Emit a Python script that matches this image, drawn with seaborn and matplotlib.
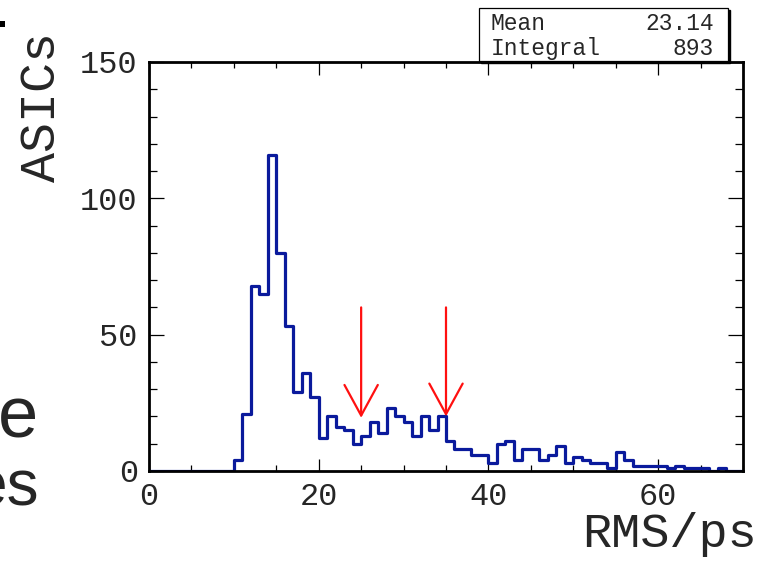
import numpy as np
import pandas as pd
import matplotlib
matplotlib.use("Agg")
import matplotlib.pyplot as plt
import seaborn as sns
from matplotlib.ticker import MultipleLocator
from matplotlib.patches import Rectangle

# ---- data ----
bin_edges = list(range(0, 71))
counts = [0] * 10 + [
    4, 21, 68, 65, 116, 80, 53, 29, 36, 27,
    12, 20, 16, 15, 10, 13, 18, 14, 23, 20,
    18, 13, 20, 15, 20, 11, 8, 8, 6, 6,
    3, 10, 11, 4, 8, 8, 4, 6, 9, 3,
    5, 4, 3, 3, 1, 7, 4, 2, 2, 2,
    2, 1, 2, 1, 1, 1, 0, 1, 0, 0,
]
x_ticks_major = [0, 20, 40, 60]
y_ticks_major = [0, 50, 100, 150]
arrow_x = [25, 35]
arrow_tip = [19.5, 20]
arrow_top = 60
stats_labels = ["Mean", "Integral"]
stats_values = ["23.14", "893"]
x_title = "RMS/ps"
y_title = "ASICs"

centers = [(a + b) / 2 for a, b in zip(bin_edges[:-1], bin_edges[1:])]
df = pd.DataFrame({"rms": centers, "n": counts})

# ---- figure ----
W, H = 760, 562
sns.set_style("ticks")
plt.rcParams["font.family"] = ["Liberation Mono", "DejaVu Sans Mono"]

fig = plt.figure(figsize=(W / 100, H / 100), dpi=100)
fig.patch.set_facecolor("white")

def fx(px):
    return px / W

def fy(py):
    return 1 - py / H

L, R, T, B = 149, 743, 62, 471
ax = fig.add_axes([fx(L), fy(B), (R - L) / W, (B - T) / H])

sns.histplot(data=df, x="rms", weights="n", bins=bin_edges, element="step",
             fill=False, color="#0a1a9c", linewidth=2.3, ax=ax)

ax.set_xlim(0, 70)
ax.set_ylim(0, 150)
ax.set_xlabel("")
ax.set_ylabel("")

ax.xaxis.set_major_locator(MultipleLocator(20))
ax.xaxis.set_minor_locator(MultipleLocator(5))
ax.yaxis.set_major_locator(MultipleLocator(50))
ax.yaxis.set_minor_locator(MultipleLocator(10))
ax.set_xticks(x_ticks_major)
ax.set_yticks(y_ticks_major)

ax.tick_params(which="both", direction="in", top=True, right=True,
               labeltop=False, labelright=False, color="black", width=0.9)
ax.tick_params(axis="x", which="major", length=9, labelsize=23, pad=8)
ax.tick_params(axis="x", which="minor", length=4.5)
ax.tick_params(axis="y", which="major", length=11, labelsize=23, pad=8)
ax.tick_params(axis="y", which="minor", length=5.5)
for s in ax.spines.values():
    s.set_linewidth(2.0)
    s.set_color("black")

# arrows
for xa, tip in zip(arrow_x, arrow_tip):
    ax.annotate("", xy=(xa, tip), xytext=(xa, arrow_top),
                arrowprops=dict(arrowstyle="->,head_length=2.2,head_width=1.2",
                                color="#ff1010", lw=1.6, shrinkA=0, shrinkB=0,
                                mutation_scale=10))

# axis titles
fig.text(fx(757), fy(547), x_title, ha="right", va="baseline", fontsize=35)
fig.text(fx(55), fy(32), y_title, ha="right", va="baseline", rotation=90,
         rotation_mode="anchor", fontsize=36)

# stats box
bx0, bx1, by0, by1 = 479, 728, 8, 61
fig.patches.append(Rectangle((fx(bx0 + 2), fy(by1 + 2)), (bx1 - bx0) / W,
                             (by1 - by0) / H, transform=fig.transFigure,
                             facecolor="black", edgecolor="black", zorder=5))
fig.patches.append(Rectangle((fx(bx0), fy(by1)), (bx1 - bx0) / W,
                             (by1 - by0) / H, transform=fig.transFigure,
                             facecolor="white", edgecolor="black", lw=0.9,
                             zorder=6))
for i, (lab, val) in enumerate(zip(stats_labels, stats_values)):
    yb = 30 + 25 * i
    fig.text(fx(491), fy(yb), lab, ha="left", va="baseline", fontsize=16.5,
             zorder=7)
    fig.text(fx(714), fy(yb), val, ha="right", va="baseline", fontsize=16.5,
             zorder=7)

# cropped slide text fragments at the left edge
fig.text(fx(38), fy(437), "e", ha="right", va="baseline", fontsize=52,
         family=["Liberation Sans", "DejaVu Sans"])
fig.text(fx(39), fy(505), "es", ha="right", va="baseline", fontsize=46,
         family=["Liberation Sans", "DejaVu Sans"])
fig.patches.append(Rectangle((0, fy(27)), fx(5), 6 / H,
                             transform=fig.transFigure, facecolor="black",
                             edgecolor="none"))

fig.savefig("out.png", dpi=100, facecolor="white")
